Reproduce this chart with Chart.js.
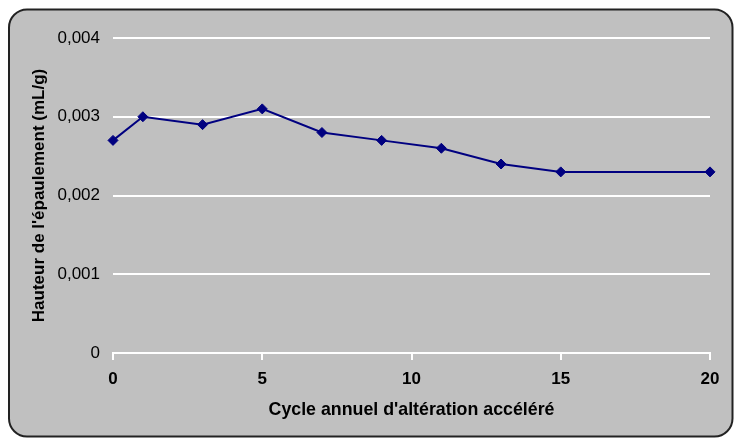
<!DOCTYPE html>
<html>
<head>
<meta charset="utf-8">
<script src="https://cdn.jsdelivr.net/npm/chart.js@4"></script>
<style>
html,body{margin:0;padding:0;background:#fff;}
canvas{display:block;}
</style>
</head>
<body>
<canvas id="c" width="734" height="438"></canvas>
<script>
const cycles = [0, 1, 3, 5, 7, 9, 11, 13, 15, 20];
const hauteur = [0.0027, 0.0030, 0.0029, 0.0031, 0.0028, 0.0027, 0.0026, 0.0024, 0.0023, 0.0023];
const xTitle = "Cycle annuel d'altération accéléré";
const yTitle = "Hauteur de l'épaulement (mL/g)";

Chart.defaults.font.family = "'Liberation Sans', Arial, sans-serif";
Chart.defaults.color = '#000';

const frame = {
  id: 'frame',
  beforeDraw(chart) {
    const ctx = chart.ctx;
    ctx.save();
    ctx.fillStyle = '#fff';
    ctx.fillRect(0, 0, chart.width, chart.height);
    const l = 9, t = 9.5, r = 732.5, b = 436.5, rad = 18;
    ctx.beginPath();
    ctx.moveTo(l + rad, t);
    ctx.lineTo(r - rad, t);
    ctx.arcTo(r, t, r, t + rad, rad);
    ctx.lineTo(r, b - rad);
    ctx.arcTo(r, b, r - rad, b, rad);
    ctx.lineTo(l + rad, b);
    ctx.arcTo(l, b, l, b - rad, rad);
    ctx.lineTo(l, t + rad);
    ctx.arcTo(l, t, l + rad, t, rad);
    ctx.closePath();
    ctx.fillStyle = '#c0c0c0';
    ctx.fill();
    ctx.lineWidth = 2;
    ctx.strokeStyle = '#222';
    ctx.stroke();
    ctx.restore();
  }
};

new Chart(document.getElementById('c'), {
  type: 'line',
  data: {
    datasets: [{
      data: cycles.map((c, i) => ({x: c, y: hauteur[i]})),
      borderColor: '#000080',
      backgroundColor: '#000080',
      borderWidth: 2,
      tension: 0,
      clip: false,
      pointStyle: 'rectRot',
      pointRadius: 5,
      pointBorderWidth: 1
    }]
  },
  options: {
    responsive: false,
    animation: false,
    layout: { padding: { left: 25, top: 38, right: 24, bottom: 10 } },
    plugins: { legend: { display: false }, tooltip: { enabled: false } },
    scales: {
      x: {
        type: 'linear',
        min: 0, max: 20,
        afterFit(s) { s.height = 75; },
        ticks: { stepSize: 5, padding: 9, font: { size: 17, weight: 'bold' }, color: '#000' },
        grid: { drawOnChartArea: false, drawTicks: true, tickLength: 7, color: '#fff', lineWidth: 2 },
        border: { display: true, color: '#fff', width: 2 },
        title: { display: true, text: xTitle, font: { size: 17.8, weight: 'bold' }, color: '#000', padding: { top: 0, bottom: 7 } }
      },
      y: {
        min: 0, max: 0.004,
        afterFit(s) { s.width = 88; },
        ticks: {
          stepSize: 0.001, padding: 13, font: { size: 17 }, color: '#000',
          callback: v => v === 0 ? '0' : v.toFixed(3).replace('.', ',')
        },
        grid: { drawTicks: false, color: '#fff', lineWidth: 2 },
        border: { display: false },
        title: { display: true, text: yTitle, font: { size: 17, weight: 'bold' }, color: '#000', padding: { top: 4, bottom: 0 } }
      }
    }
  },
  plugins: [frame]
});
</script>
</body>
</html>
